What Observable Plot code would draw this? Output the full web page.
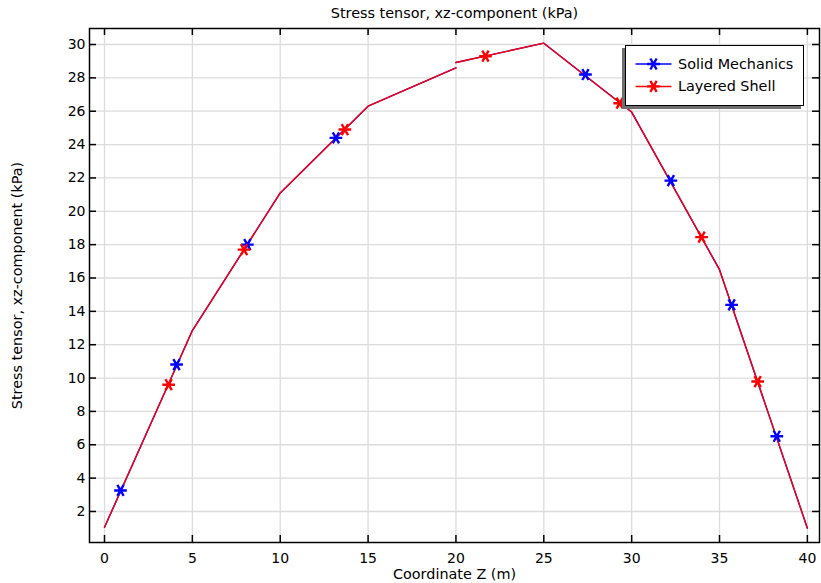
<!DOCTYPE html>
<html>
<head>
<meta charset="utf-8">
<script src="https://cdn.jsdelivr.net/npm/d3@7"></script>
<script src="https://cdn.jsdelivr.net/npm/@observablehq/plot@0.6"></script>
<style>
  html, body { margin: 0; padding: 0; background: white; }
  #wrap { position: relative; width: 821px; height: 583px; font-family: "DejaVu Sans", sans-serif; }
  #legend { position: absolute; left: 625px; top: 45px; width: 177px; height: 59px;
            border: 1.5px solid black; background: white; box-shadow: -3px 3px 0 #707070; }
</style>
</head>
<body>
<div id="wrap"><div id="legend"></div></div>
<script>
// ---- data ----
const titleText = "Stress tensor, xz-component (kPa)";
const xLabel = "Coordinate Z (m)";
const yLabel = "Stress tensor, xz-component (kPa)";
const xTicks = [0, 5, 10, 15, 20, 25, 30, 35, 40];
const yTicks = [2, 4, 6, 8, 10, 12, 14, 16, 18, 20, 22, 24, 26, 28, 30];

// piecewise line (layer 1 and layer 2, with a jump at Z = 20)
const lineZ1 = [0, 5, 10, 15, 20];
const lineS1 = [1.05, 12.85, 21.1, 26.3, 28.6];
const lineZ2 = [20, 25, 30, 35, 40];
const lineS2 = [28.92, 30.08, 25.95, 16.5, 1.0];

// marker positions
const smZ = [0.91, 4.10, 8.13, 13.17, 27.37, 32.23, 35.69, 38.26];
const smS = [3.26, 10.81, 18.0, 24.4, 28.2, 21.84, 14.39, 6.51];
const lsZ = [3.65, 7.94, 13.68, 21.68, 29.32, 33.98, 37.17];
const lsS = [9.6, 17.7, 24.9, 29.3, 26.48, 18.45, 9.79];

const seriesNames = ["Solid Mechanics", "Layered Shell"];
const seriesColors = ["#0000ff", "#ff0000"];

// ---- build tables ----
const lineData = [
  ...lineZ1.map((z, i) => ({z, s: lineS1[i], seg: 1})),
  ...lineZ2.map((z, i) => ({z, s: lineS2[i], seg: 2}))
];
const smPts = smZ.map((z, i) => ({z, s: smS[i]}));
const lsPts = lsZ.map((z, i) => ({z, s: lsS[i]}));

const W = 821, H = 583, mL = 89, mR = 2, mT = 28, mB = 41;
const frameW = W - mL - mR, frameH = H - mT - mB;
const tk = 7;

const chart = Plot.plot({
  width: W, height: H,
  marginLeft: mL, marginRight: mR, marginTop: mT, marginBottom: mB,
  style: {fontFamily: "DejaVu Sans", fontSize: "14px", background: "white", color: "black"},
  x: {domain: [-0.854, 40.69], axis: null},
  y: {domain: [0.14, 30.96], axis: null},
  marks: [
    Plot.gridX(xTicks, {stroke: "#dcdcdc", strokeOpacity: 1, strokeWidth: 1.3}),
    Plot.gridY(yTicks, {stroke: "#dcdcdc", strokeOpacity: 1, strokeWidth: 1.3}),
    Plot.axisX({ticks: xTicks, tickSize: 0, tickPadding: 11, label: null, fontSize: 14}),
    Plot.axisY({ticks: yTicks, tickSize: 0, tickPadding: 4, label: null, fontSize: 14}),
    // inward ticks on all four sides
    Plot.tickX(xTicks, {x: d => d, insetTop: frameH - tk, stroke: "black", strokeWidth: 1.5}),
    Plot.tickX(xTicks, {x: d => d, insetBottom: frameH - tk, stroke: "black", strokeWidth: 1.5}),
    Plot.tickY(yTicks, {y: d => d, insetRight: frameW - tk, stroke: "black", strokeWidth: 1.5}),
    Plot.tickY(yTicks, {y: d => d, insetLeft: frameW - tk, stroke: "black", strokeWidth: 1.5}),
    // lines
    Plot.line(lineData, {x: "z", y: "s", z: "seg", stroke: seriesColors[0], strokeWidth: 1.4}),
    Plot.line(lineData, {x: "z", y: "s", z: "seg", stroke: seriesColors[1], strokeWidth: 1.4}),
    // markers
    Plot.dot(smPts, {x: "z", y: "s", symbol: "asterisk", r: 6, rotate: 90, stroke: seriesColors[0], strokeWidth: 2.4}),
    Plot.dot(lsPts, {x: "z", y: "s", symbol: "asterisk", r: 6, rotate: 90, stroke: seriesColors[1], strokeWidth: 2.4}),
    Plot.frame({stroke: "black", strokeWidth: 1.5}),
    // titles
    Plot.text([titleText], {text: d => d, frameAnchor: "top", dy: -15, lineAnchor: "middle", textAnchor: "middle", fontSize: 14.4}),
    Plot.text([xLabel], {text: d => d, frameAnchor: "bottom", dy: 32, lineAnchor: "middle", textAnchor: "middle", fontSize: 14.4}),
    Plot.text([yLabel], {text: d => d, frameAnchor: "left", dx: -72, rotate: -90, lineAnchor: "middle", textAnchor: "middle", fontSize: 14.4})
  ]
});
document.getElementById("wrap").prepend(chart);

// ---- legend ----
const leg = d3.select("#legend").append("svg").attr("width", 177).attr("height", 59)
  .style("display", "block");
const sym = d3.symbol(d3.symbolAsterisk, Math.PI * 36)();
seriesNames.forEach((name, i) => {
  const yy = 18 + i * 22.4;
  leg.append("line").attr("x1", 9.5).attr("x2", 45.5).attr("y1", yy).attr("y2", yy)
    .attr("stroke", seriesColors[i]).attr("stroke-width", 1.5);
  leg.append("path").attr("d", sym).attr("transform", `translate(27.5,${yy}) rotate(90)`)
    .attr("fill", "none").attr("stroke", seriesColors[i]).attr("stroke-width", 2.4);
  leg.append("text").attr("x", 52).attr("y", yy).attr("dy", "0.35em")
    .attr("font-family", "DejaVu Sans").attr("font-size", 14.4).attr("fill", "black").text(name);
});
</script>
</body>
</html>
